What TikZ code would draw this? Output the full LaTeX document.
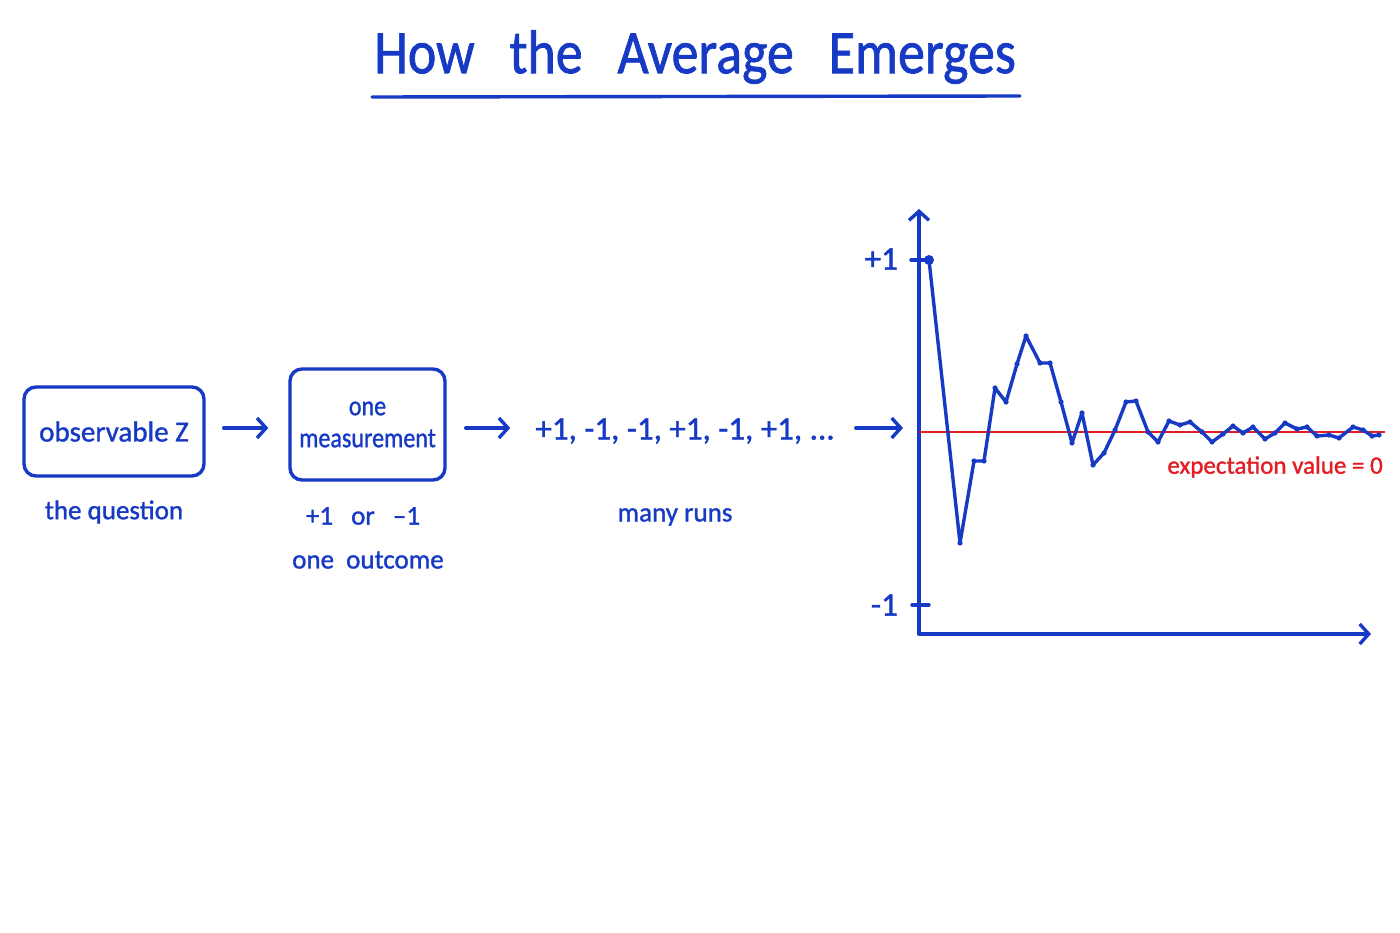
\documentclass[tikz,border=0pt]{standalone}
\usepackage{fontspec}
\setmainfont{Carlito}[FakeBold=1.2]
\usetikzlibrary{arrows.meta}
\definecolor{inkblue}{RGB}{22,58,196}
\definecolor{inkred}{RGB}{226,30,36}
\begin{document}
\begin{tikzpicture}[x=1pt,y=-1pt,
  ink/.style={draw=inkblue, line width=3.4pt, line cap=round, line join=round},
  boxstyle/.style={ink, rounded corners=12pt, inner sep=0pt, text=inkblue, align=center},
  barb/.tip={Straight Barb[length=9pt,width=20pt,line width=3.4pt]},
  flow/.style={ink, -barb},
  lbl/.style={text=inkblue, font=\fontsize{27}{31}\selectfont, inner sep=0pt},
  ]
\useasboundingbox (0,0) rectangle (1400,933);
\fill[white] (0,0) rectangle (1400,933);

% title
\node[text=inkblue, font=\fontsize{62}{66}\selectfont, inner sep=0pt] (title) at (695,57) {\scalebox{0.87}[1]{How\hspace{26pt} the\hspace{26pt} Average\hspace{26pt} Emerges}};
\draw[ink] (372,97) -- (1020,96);

% boxes
\node[boxstyle, minimum width=180pt, minimum height=89pt, font=\fontsize{29}{33}\selectfont] (box1) at (114,431.5) {observable Z};
\node[boxstyle, minimum width=155pt, minimum height=111pt, font=\fontsize{28}{33}\selectfont] (box2) at (367.5,424.5) {\scalebox{0.86}[1]{one}\\[-1pt]\scalebox{0.86}[1]{measurement}};
\node[text=inkblue, font=\fontsize{33}{36}\selectfont, inner sep=0pt] (seq) at (685,431) {+1, -1, -1, +1, -1, +1, ...};

% labels
\node[lbl] (q) at (114,512) {the question};
\node[lbl] (pm) at (363,516) {+1\hspace{12pt} or\hspace{12pt} –1};
\node[lbl] (oc) at (368,560) {one\hspace{6pt} outcome};
\node[lbl] (mr) at (675,517) {many runs};

% chart frame
\coordinate (o) at (919,634);
\coordinate (ytop) at (919,209);
\coordinate (xend) at (1371,634);
\coordinate (zero) at (919,432);
\coordinate (redend) at (1385,432);

% flow arrows
\draw[flow] (box1.east |- 0,428) ++(18,0) -- ([xshift=-20pt]box2.west |- 0,428);
\draw[flow] (box2.east |- 0,428) ++(19,0) -- ([xshift=-25pt]seq.west |- 0,428);
\draw[flow] (seq.east |- 0,428) ++(21,0) -- ([xshift=-16pt]zero |- 0,428);

\draw[ink, barb-barb] (ytop) -- (o) -- (xend);
\draw[ink] (911,260) -- (929,260);
\draw[ink] (912,605) -- (929,605);
\node[text=inkblue, font=\fontsize{33}{36}\selectfont, inner sep=0pt, anchor=east] (plus1) at (898,259) {+1};
\node[text=inkblue, font=\fontsize{33}{36}\selectfont, inner sep=0pt, anchor=east] (minus1) at (898,605) {-1};

% expectation line
\draw[draw=inkred, line width=2pt] (zero) -- (redend);
\node[text=inkred, font=\fontsize{25}{29}\selectfont, inner sep=0pt, anchor=east] (ev) at (1383,467) {expectation value = 0};

% running average
\def\pts{(929,260) (960,543) (974,461) (984,461) (995,388) (1006,402) (1017,364) (1026,336)
(1040,363) (1050,363) (1061,402) (1072,443) (1082,413) (1093,465) (1104,453) (1115,430)
(1126,402) (1136,401) (1148,432) (1158,442) (1169,421) (1180,425) (1190,422) (1202,432)
(1212,442) (1223,434) (1233,426) (1243,433) (1253,427) (1265,439) (1275,433) (1285,423)
(1297,429) (1307,427) (1317,436) (1329,435) (1339,438) (1353,427) (1363,430) (1372,436) (1379,435)}
\draw[ink] plot coordinates {\pts};
\foreach \p in {(960,543), (974,461), (984,461), (995,388), (1006,402), (1017,364), (1026,336),
(1040,363), (1050,363), (1061,402), (1072,443), (1082,413), (1093,465), (1104,453), (1115,430),
(1126,402), (1136,401), (1148,432), (1158,442), (1169,421), (1180,425), (1190,422), (1202,432),
(1212,442), (1223,434), (1233,426), (1243,433), (1253,427), (1265,439), (1275,433), (1285,423),
(1297,429), (1307,427), (1317,436), (1329,435), (1339,438), (1353,427), (1363,430), (1372,436), (1379,435)}
  \fill[inkblue] \p circle (2.6pt);
\fill[inkblue] (929,260) circle (5pt);
\end{tikzpicture}
\end{document}
